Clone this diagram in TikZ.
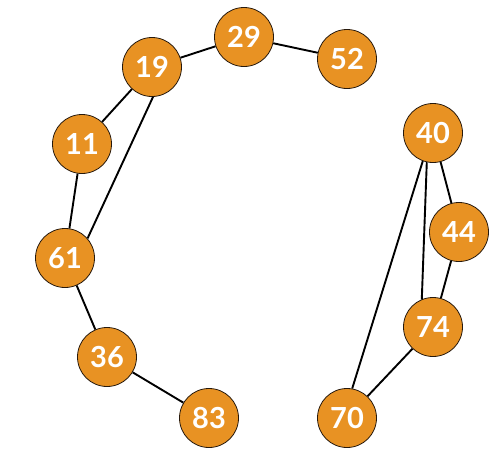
\documentclass[tikz,border=0pt]{standalone}
\usepackage{fontspec}
\setsansfont{Lato}
\usepackage{tikz}
\definecolor{keyorange}{RGB}{232,146,35}

\begin{document}
\begin{tikzpicture}[x=1pt,y=-1pt,
	key/.style={circle,draw=black!80!brown,line width=0.8pt,fill=keyorange,minimum size=59pt,inner sep=0pt,
		text=white,font=\sffamily\bfseries\fontsize{29}{29}\selectfont},
	link/.style={line width=1.9pt}]
		\useasboundingbox (0,0) rectangle (504,466);
		\node[key] (n29) at (244,37) {29};
		\node[key] (n52) at (347,59) {52};
		\node[key] (n19) at (152,67) {19};
		\node[key] (n11) at (82,144) {11};
		\node[key] (n61) at (65,258) {61};
		\node[key] (n36) at (107,357) {36};
		\node[key] (n83) at (209,418) {83};
		\node[key] (n40) at (433,133) {40};
		\node[key] (n44) at (459,232) {44};
		\node[key] (n74) at (433,327) {74};
		\node[key] (n70) at (347,418) {70};
		\draw[link] (n19) -- (n29) -- (n52);
		\draw[link] (n19) -- (n11) -- (n61) -- (n36) -- (n83);
		\draw[link] (n19.-88) -- (n61.41);
		\draw[link] (n40) -- (n44) -- (n74) -- (n70);
		\draw[link] (n40.-110) -- (n70.80);
		\draw[link] (n40.-102) -- (n74.112);
		\end{tikzpicture}
\end{document}
